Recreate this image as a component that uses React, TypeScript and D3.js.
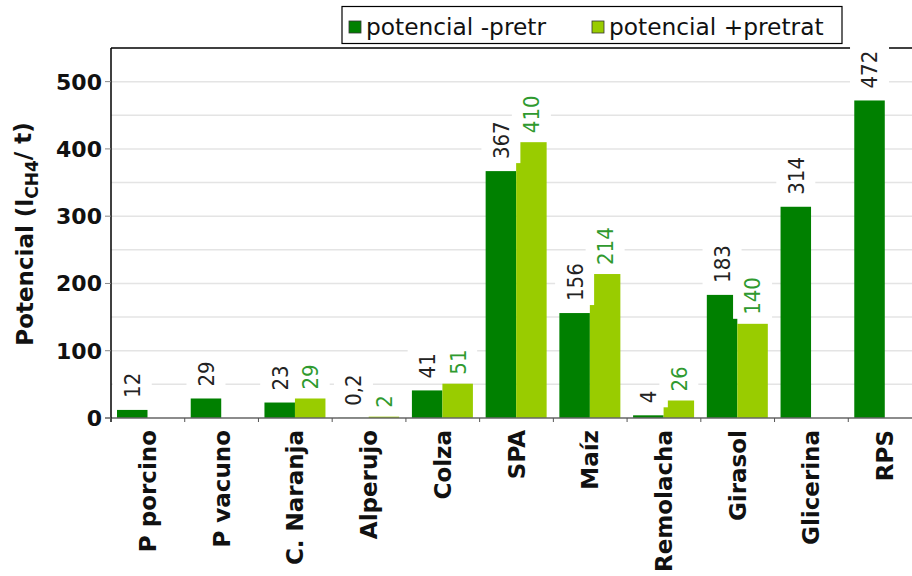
import React, { useEffect, useRef } from "react";
import * as d3 from "d3";

const categories = [
  "P porcino",
  "P vacuno",
  "C. Naranja",
  "Alperujo",
  "Colza",
  "SPA",
  "Maíz",
  "Remolacha",
  "Girasol",
  "Glicerina",
  "RPS",
];
const sinPretr = [12, 29, 23, 0.2, 41, 367, 156, 4, 183, 314, 472];
const conPretr = [null, null, 29, 2, 51, 410, 214, 26, 140, null, null];
const seriesNames = ["potencial -pretr", "potencial +pretrat"];
const yTicks = [0, 100, 200, 300, 400, 500];

const DARK = "#008000";
const LIGHT = "#99cc00";

export default function App() {
  const svgRef = useRef(null);

  useEffect(() => {
    const svg = d3.select(svgRef.current);
    svg.selectAll("*").remove();

    const left = 111;
    const right = 922;
    const top = 48;
    const bottom = 418;

    const x = d3.scaleBand().domain(categories).range([left, right]).padding(0);
    const x1 = d3.scaleBand().domain(["a", "b"]).range([6, 67]);
    const y = d3.scaleLinear().domain([0, 550]).range([bottom, top]);

    // grid
    svg
      .append("g")
      .selectAll("line")
      .data(d3.range(50, 551, 50))
      .enter()
      .append("line")
      .attr("x1", left)
      .attr("x2", 912)
      .attr("y1", (d) => y(d))
      .attr("y2", (d) => y(d))
      .attr("stroke", (d) => (d === 550 ? "#000" : "#e4e4e4"))
      .attr("stroke-width", 1.5);

    // bars
    const rows = categories.map((c, i) => ({ c, a: sinPretr[i], b: conPretr[i] }));
    const bars = svg.append("g");
    rows.forEach((r) => {
      bars
        .append("rect")
        .attr("x", x(r.c) + x1("a"))
        .attr("y", y(r.a))
        .attr("width", x1.bandwidth())
        .attr("height", bottom - y(r.a))
        .attr("fill", DARK);
      if (r.b != null) {
        bars
          .append("rect")
          .attr("x", x(r.c) + x1("b"))
          .attr("y", y(r.b))
          .attr("width", x1.bandwidth())
          .attr("height", bottom - y(r.b))
          .attr("fill", LIGHT);
      }
    });

    // axes
    svg
      .append("line")
      .attr("x1", left - 6)
      .attr("x2", 912)
      .attr("y1", bottom)
      .attr("y2", bottom)
      .attr("stroke", "#666")
      .attr("stroke-width", 1.5);
    svg
      .append("line")
      .attr("x1", left)
      .attr("x2", left)
      .attr("y1", top)
      .attr("y2", bottom + 4)
      .attr("stroke", "#000")
      .attr("stroke-width", 1.5);

    const yAxis = svg.append("g");
    yTicks.forEach((t) => {
      yAxis
        .append("line")
        .attr("x1", left - 6)
        .attr("x2", left)
        .attr("y1", y(t))
        .attr("y2", y(t))
        .attr("stroke", "#888");
      yAxis
        .append("text")
        .attr("x", 102)
        .attr("y", y(t))
        .attr("dy", "0.36em")
        .attr("text-anchor", "end")
        .attr("font-family", "DejaVu Sans")
        .attr("font-weight", "bold")
        .attr("font-size", 22)
        .attr("fill", "#111")
        .text(t);
    });

    const xAxis = svg.append("g");
    categories.forEach((c) => {
      xAxis
        .append("line")
        .attr("x1", x(c))
        .attr("x2", x(c))
        .attr("y1", bottom)
        .attr("y2", bottom + 4)
        .attr("stroke", "#555");
      const cx = x(c) + x.bandwidth() / 2;
      xAxis
        .append("text")
        .attr("transform", `translate(${cx},430) rotate(-90)`)
        .attr("dy", "0.35em")
        .attr("text-anchor", "end")
        .attr("font-family", "DejaVu Sans")
        .attr("font-weight", "bold")
        .attr("font-size", 23)
        .attr("fill", "#111")
        .text(c);
    });

    // value labels
    const fmt = (v) => String(v).replace(".", ",");
    const labels = svg.append("g");
    const addLabel = (v, key, c, gap, color) => {
      const cx = x(c) + x1(key) + x1.bandwidth() / 2;
      const y0 = y(v) - gap;
      const g = labels.append("g").attr("transform", `translate(${cx},${y0}) rotate(-90)`);
      const t = g
        .append("text")
        .attr("dy", "0.36em")
        .attr("font-family", "'DejaVu Sans Condensed', 'DejaVu Sans'")
        .attr("font-stretch", "condensed")
        .attr("font-size", 22)
        .attr("fill", color)
        .text(fmt(v));
      const len = t.node().getComputedTextLength();
      g.insert("rect", "text")
        .attr("x", -4)
        .attr("y", -19.5)
        .attr("width", len + 8)
        .attr("height", 39)
        .attr("fill", "#fff");
    };
    rows.forEach((r) => {
      addLabel(r.a, "a", r.c, 12, "#222");
      if (r.b != null) addLabel(r.b, "b", r.c, 9, "#2f9a2f");
    });

    // y title
    const title = svg
      .append("text")
      .attr("transform", "translate(25,234) rotate(-90)")
      .attr("dy", "0.35em")
      .attr("text-anchor", "middle")
      .attr("font-family", "DejaVu Sans")
      .attr("font-weight", "bold")
      .attr("font-size", 23)
      .attr("fill", "#111");
    title.append("tspan").text("Potencial (l");
    title.append("tspan").attr("font-size", 17).attr("dy", "0.3em").text("CH4");
    title.append("tspan").attr("dy", "-0.3em").text("/ t)");

    // legend
    const lg = svg.append("g");
    lg.append("rect")
      .attr("x", 342)
      .attr("y", 6.5)
      .attr("width", 500)
      .attr("height", 37)
      .attr("fill", "#fff")
      .attr("stroke", "#000")
      .attr("stroke-width", 1.2);
    const lx = [349, 592];
    seriesNames.forEach((n, i) => {
      lg.append("rect")
        .attr("x", lx[i])
        .attr("y", 21)
        .attr("width", 12)
        .attr("height", 12)
        .attr("fill", i === 0 ? DARK : LIGHT)
        .attr("stroke", "#333")
        .attr("stroke-width", 0.8);
      lg.append("text")
        .attr("x", lx[i] + 17)
        .attr("y", 35)
        .attr("font-family", "DejaVu Sans")
        .attr("font-size", 23.3)
        .attr("fill", "#111")
        .text(n);
    });
  }, []);

  return (
    <svg
      ref={svgRef}
      width={912}
      height={576}
      style={{ position: "absolute", left: 0, top: 0, background: "#fff" }}
    />
  );
}
